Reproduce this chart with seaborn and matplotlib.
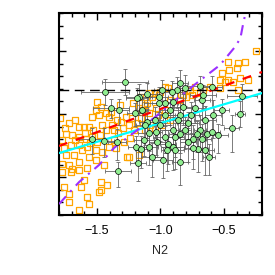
import numpy as np
import pandas as pd
import seaborn as sns
from matplotlib import pyplot as plt
from matplotlib.ticker import MultipleLocator, NullFormatter

# orange open squares (N2, 12+log(O/H))
sq_n2 = [-0.248, -0.334, -0.389, -0.468, -0.460, -0.397, -0.516, -0.531, -0.468, -0.429,
         -0.374, -0.311, -0.389, -0.531, -0.610, -0.665, -0.728, -0.768, -0.823, -0.965,
         -0.941, -1.004, -1.067, -1.162, -0.492,
         -1.501, -1.469, -1.508, -1.485, -1.540, -1.430, -1.406, -1.390, -1.721, -1.642,
         -1.603, -1.564, -1.461, -1.382, -1.430, -1.367, -1.311, -1.272, -1.248, -1.225,
         -1.185, -1.154, -1.146, -1.107, -1.091, -1.036, -1.036, -1.091, -1.012, -1.674,
         -1.745, -1.698, -1.642, -1.587, -1.540, -1.501, -1.705, -1.642, -1.579, -1.508,
         -1.461, -1.406, -1.367, -1.288, -1.248, -1.170, -1.745, -1.682, -1.564, -1.776,
         -1.721, -1.698, -1.642, -1.642, -1.705, -1.776, -1.627, -1.603, -1.721, -1.761,
         -1.469, -1.422, -1.469, -1.579, -1.564, -1.721, -1.642, -1.485, -1.264, -1.579,
         -1.776, -1.753, -1.792, -1.595, -1.532, -1.674, -1.761, -1.619, -1.556, -1.477,
         -1.335, -1.296, -1.343, -1.209, -1.240, -1.122, -1.083, -1.170, -1.217, -1.319,
         -1.351, -1.508, -1.445, -1.122, -1.020, -0.965, -0.925, -0.886, -0.846, -0.799,
         -0.752, -0.925, -0.988, -1.043, -0.689]
sq_oh = [8.999, 8.912, 8.904, 8.912, 8.849, 8.864, 8.825, 8.769, 8.769, 8.753,
         8.785, 8.769, 8.690, 8.706, 8.714, 8.690, 8.714, 8.690, 8.650, 8.714,
         8.706, 8.674, 8.635, 8.635, 8.753,
         8.595, 8.555, 8.532, 8.492, 8.476, 8.508, 8.476, 8.516, 8.429, 8.397,
         8.397, 8.397, 8.413, 8.413, 8.373, 8.373, 8.437, 8.476, 8.413, 8.468,
         8.429, 8.468, 8.532, 8.587, 8.508, 8.548, 8.666, 8.666, 8.650, 8.452,
         8.342, 8.334, 8.318, 8.302, 8.318, 8.278, 8.254, 8.254, 8.239, 8.215,
         8.199, 8.239, 8.294, 8.278, 8.159, 8.175, 8.175, 8.175, 8.159, 8.104,
         8.096, 8.064, 8.120, 8.056, 8.041, 8.041, 7.922, 7.977, 7.866, 7.922,
         7.961, 7.938, 7.898, 7.843, 7.787, 7.803, 7.740, 7.882, 8.159, 8.072,
         8.294, 8.389, 8.468, 8.350, 8.373, 8.294, 8.231, 8.215, 8.270, 8.334,
         8.350, 8.389, 8.452, 8.373, 8.310, 8.373, 8.413, 8.548, 8.587, 8.571,
         8.231, 8.136, 8.096, 8.571, 8.492, 8.532, 8.611, 8.650, 8.611, 8.635,
         8.650, 8.452, 8.413, 8.389, 8.666]

# green points with errors
gr_n2 = [-1.280, -1.438, -1.390, -1.327, -1.201, -1.170, -1.107, -1.012, -1.012, -1.107,
         -1.036, -1.091, -0.846, -0.594, -0.689, -0.870, -1.185, -0.358, -0.673, -0.902,
         -0.965, -1.146, -0.823, -0.728, -0.586, -0.846, -0.965, -1.043, -1.122, -0.783,
         -0.689, -0.902, -0.437, -0.547, -0.886, -0.965, -0.988, -0.910, -0.807, -0.665,
         -0.374, -0.941, -0.902, -0.949, -0.886, -0.980, -0.846, -0.744, -0.673, -0.713,
         -0.634, -0.783, -0.705, -0.649, -0.618, -0.846, -0.594, -1.540, -1.445, -1.343,
         -1.193, -1.154, -1.130, -1.091, -1.028, -1.067, -1.335, -1.177, -0.744, -0.925,
         -0.760, -0.649, -0.807, -1.004, -0.862, -0.516]
gr_oh = [8.753, 8.674, 8.548, 8.532, 8.508, 8.635, 8.658, 8.635, 8.587, 8.437,
         8.357, 8.350, 8.746, 8.714, 8.722, 8.690, 8.627, 8.642, 8.611, 8.595,
         8.587, 8.532, 8.555, 8.548, 8.492, 8.492, 8.492, 8.452, 8.413, 8.429,
         8.373, 8.373, 8.389, 8.334, 8.318, 8.318, 8.690, 8.674, 8.706, 8.650,
         8.500, 8.262, 8.239, 8.215, 8.215, 8.136, 8.120, 8.302, 8.302, 8.342,
         8.342, 8.278, 8.223, 8.215, 8.159, 8.342, 8.357, 8.302, 8.286, 8.278,
         8.239, 8.223, 8.294, 8.239, 8.278, 8.159, 8.049, 8.112, 8.231, 8.532,
         8.492, 8.452, 8.373, 8.413, 8.452, 8.532]
gr_xerr = [0.18, 0.19, 0.14, 0.08, 0.06, 0.10, 0.08, 0.07, 0.12, 0.06,
           0.05, 0.09, 0.06, 0.08, 0.10, 0.07, 0.09, 0.12, 0.06, 0.08,
           0.10, 0.05, 0.07, 0.09, 0.06, 0.11, 0.08, 0.06, 0.07, 0.09,
           0.05, 0.10, 0.06, 0.08, 0.07, 0.09, 0.06, 0.08, 0.05, 0.10,
           0.04, 0.06, 0.09, 0.05, 0.07, 0.08, 0.06, 0.10, 0.07, 0.05,
           0.09, 0.06, 0.08, 0.07, 0.05, 0.09, 0.06, 0.10, 0.08, 0.07,
           0.06, 0.05, 0.08, 0.07, 0.06, 0.09, 0.10, 0.06, 0.07, 0.08,
           0.06, 0.09, 0.05, 0.08, 0.07, 0.06]
gr_ylo = [0.10, 0.10, 0.08, 0.12, 0.10, 0.14, 0.10, 0.12, 0.15, 0.13,
          0.18, 0.14, 0.12, 0.16, 0.10, 0.14, 0.10, 0.12, 0.15, 0.12,
          0.16, 0.13, 0.14, 0.12, 0.18, 0.15, 0.12, 0.14, 0.16, 0.13,
          0.17, 0.15, 0.19, 0.14, 0.16, 0.13, 0.10, 0.12, 0.14, 0.11,
          0.10, 0.16, 0.18, 0.17, 0.15, 0.14, 0.18, 0.16, 0.17, 0.14,
          0.15, 0.16, 0.18, 0.20, 0.14, 0.15, 0.20, 0.12, 0.13, 0.14,
          0.12, 0.15, 0.13, 0.14, 0.12, 0.16, 0.13, 0.14, 0.17, 0.12,
          0.14, 0.16, 0.15, 0.13, 0.14, 0.12]
gr_yhi = [0.10, 0.10, 0.07, 0.09, 0.08, 0.10, 0.09, 0.08, 0.11, 0.10,
          0.12, 0.10, 0.10, 0.09, 0.08, 0.10, 0.08, 0.10, 0.10, 0.09,
          0.11, 0.09, 0.10, 0.09, 0.12, 0.10, 0.09, 0.10, 0.11, 0.09,
          0.12, 0.10, 0.10, 0.09, 0.11, 0.09, 0.08, 0.09, 0.10, 0.08,
          0.10, 0.11, 0.12, 0.11, 0.10, 0.10, 0.12, 0.11, 0.12, 0.10,
          0.10, 0.11, 0.12, 0.12, 0.10, 0.10, 0.12, 0.09, 0.10, 0.10,
          0.09, 0.10, 0.10, 0.10, 0.09, 0.11, 0.07, 0.10, 0.11, 0.09,
          0.10, 0.11, 0.10, 0.09, 0.10, 0.09]

# calibration curves
solar_oh = 8.69
fit_n2 = [-1.8, -0.2]
fit_red = [8.247, 8.833]
fit_cyan = [8.191, 8.666]
cal_n2 = [-1.80, -1.642, -1.485, -1.367, -1.20, -1.051, -0.862, -0.705, -0.531,
          -0.413, -0.370, -0.350, -0.338, -0.334]
cal_oh = [7.787, 7.961, 8.096, 8.231, 8.36, 8.469, 8.627, 8.753, 8.888,
          9.031, 9.10, 9.205, 9.26, 9.30]

squares = pd.DataFrame({'N2': sq_n2, 'OH': sq_oh})
greens = pd.DataFrame({'N2': gr_n2, 'OH': gr_oh})

sns.set_style('ticks')
plt.rcParams['font.family'] = ['Liberation Sans', 'DejaVu Sans']

fig = plt.figure(figsize=(2.75, 2.75), dpi=100)
ax = fig.add_axes([0.2145, 0.218, 0.738, 0.7345])

sns.scatterplot(data=squares, x='N2', y='OH', ax=ax, marker='s', s=17,
                fc='none', ec='#FFA500', linewidth=0.9, zorder=2)
ax.errorbar(gr_n2, gr_oh, xerr=gr_xerr, yerr=[gr_ylo, gr_yhi], fmt='none',
            ecolor='0.4', elinewidth=0.6, capsize=1.5, capthick=0.6, zorder=3)

ax.axhline(solar_oh, color='k', lw=1.0, ls=(0, (7, 4)), zorder=4)
ax.plot(fit_n2, fit_cyan, color='#00FFFF', lw=1.6, zorder=4)
ax.plot(fit_n2, fit_red, color='red', lw=1.6, ls=(0, (4, 4)), zorder=4)
ax.plot(cal_n2, cal_oh, color='#9B30FF', lw=1.5, ls=(0, (5, 3, 1, 3)), zorder=4)

sns.scatterplot(data=greens, x='N2', y='OH', ax=ax, marker='o', s=18,
                color='#90EE90', edgecolor='k', linewidth=0.5, zorder=5)

ax.set_xlim(-1.8, -0.2)
ax.set_ylim(7.7, 9.3)
ax.xaxis.set_major_locator(MultipleLocator(0.5))
ax.xaxis.set_minor_locator(MultipleLocator(0.1))
ax.yaxis.set_major_locator(MultipleLocator(0.5))
ax.yaxis.set_minor_locator(MultipleLocator(0.1))
ax.yaxis.set_major_formatter(NullFormatter())
ax.tick_params(which='both', direction='in', top=True, right=True, width=1.0,
               labelsize=9, colors='k')
ax.tick_params(which='major', length=5, pad=7)
ax.tick_params(which='minor', length=3)
for sp in ax.spines.values():
    sp.set_linewidth(1.5)
    sp.set_color('k')
ax.set_xlabel('N2', fontsize=9, labelpad=6)
ax.set_ylabel('')

fig.savefig('out.png', dpi=100)
